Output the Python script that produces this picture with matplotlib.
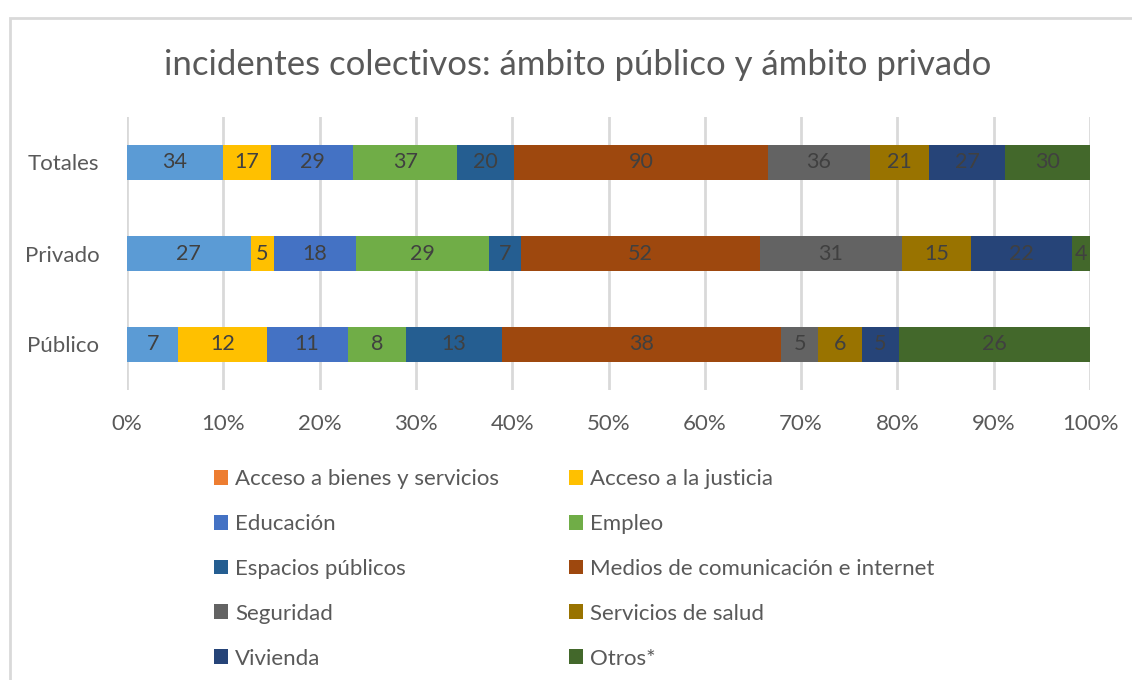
import matplotlib
matplotlib.use("Agg")
from matplotlib import pyplot as plt
from matplotlib.patches import Rectangle, Patch
import numpy as np

plt.rcParams['font.family'] = ['Lato', 'DejaVu Sans']

# categories (bottom to top)
ambitos = ["Público", "Privado", "Totales"]

series = ["Acceso a bienes y servicios", "Acceso a la justicia", "Educación", "Empleo",
          "Espacios públicos", "Medios de comunicación e internet", "Seguridad",
          "Servicios de salud", "Vivienda", "Otros*"]

# counts per series for Público, Privado, Totales
acceso_bienes = [7, 27, 34]
acceso_justicia = [12, 5, 17]
educacion = [11, 18, 29]
empleo = [8, 29, 37]
espacios_publicos = [13, 7, 20]
medios = [38, 52, 90]
seguridad = [5, 31, 36]
salud = [6, 15, 21]
vivienda = [5, 22, 27]
otros = [26, 4, 30]

valores = [acceso_bienes, acceso_justicia, educacion, empleo, espacios_publicos,
           medios, seguridad, salud, vivienda, otros]

bar_colors = ["#5B9BD5", "#FFC000", "#4472C4", "#70AD47", "#255E91",
              "#9E480E", "#636363", "#997300", "#264478", "#43682B"]
legend_colors = ["#ED7D31"] + bar_colors[1:]

data = np.array(valores, dtype=float)
totals = data.sum(axis=0)
pct = data / totals

fig = plt.figure(figsize=(11.32, 6.8), dpi=100)
ax = fig.add_axes([127 / 1132, 1 - 390 / 680, (1090 - 127) / 1132, (390 - 117) / 680])

y = np.arange(len(ambitos))
left = np.zeros(len(ambitos))
for i, name in enumerate(series):
    bars = ax.barh(y, pct[i], left=left, height=0.39, color=bar_colors[i], zorder=2)
    ax.bar_label(bars, labels=[str(int(v)) for v in data[i]], label_type='center',
                 color="#404040", fontsize=15.5)
    left += pct[i]

ax.set_xlim(0, 1)
ax.set_ylim(-0.5, 2.5)
ax.set_xticks(np.arange(0, 1.01, 0.1))
ax.set_xticklabels([f"{int(round(t * 100))}%" for t in np.arange(0, 1.01, 0.1)])
ax.set_yticks(y)
ax.set_yticklabels(ambitos)
ax.tick_params(axis='both', length=0, labelsize=16, labelcolor="#595959")
ax.tick_params(axis='x', pad=17)
ax.tick_params(axis='y', pad=20)
ax.grid(axis='x', color="#D9D9D9", linewidth=2, zorder=0)
for s in ax.spines.values():
    s.set_visible(False)

fig.suptitle("incidentes colectivos: ámbito público y ámbito privado",
             x=578 / 1132, y=1 - 65 / 680, va='center', fontsize=25, color="#595959")

# legend: two columns filled row by row
handles = [Patch(facecolor=c, label=n) for c, n in zip(legend_colors, series)]
for col, x0 in enumerate([194, 549]):
    idx = list(range(col, 10, 2))
    fig.legend([handles[k] for k in idx], [series[k] for k in idx],
               loc='upper left', bbox_to_anchor=(x0 / 1132, 1 - 449 / 680),
               frameon=False, fontsize=16, labelcolor="#595959",
               handlelength=0.65, handleheight=0.65, handletextpad=0.3,
               labelspacing=1.12)

# chart frame
fig.patches.append(Rectangle((10 / 1132, -0.1), 1.2, 1 - 18 / 680 + 0.1,
                             transform=fig.transFigure, fill=False,
                             edgecolor="#D9D9D9", linewidth=2))

fig.savefig("out.png", dpi=100)
